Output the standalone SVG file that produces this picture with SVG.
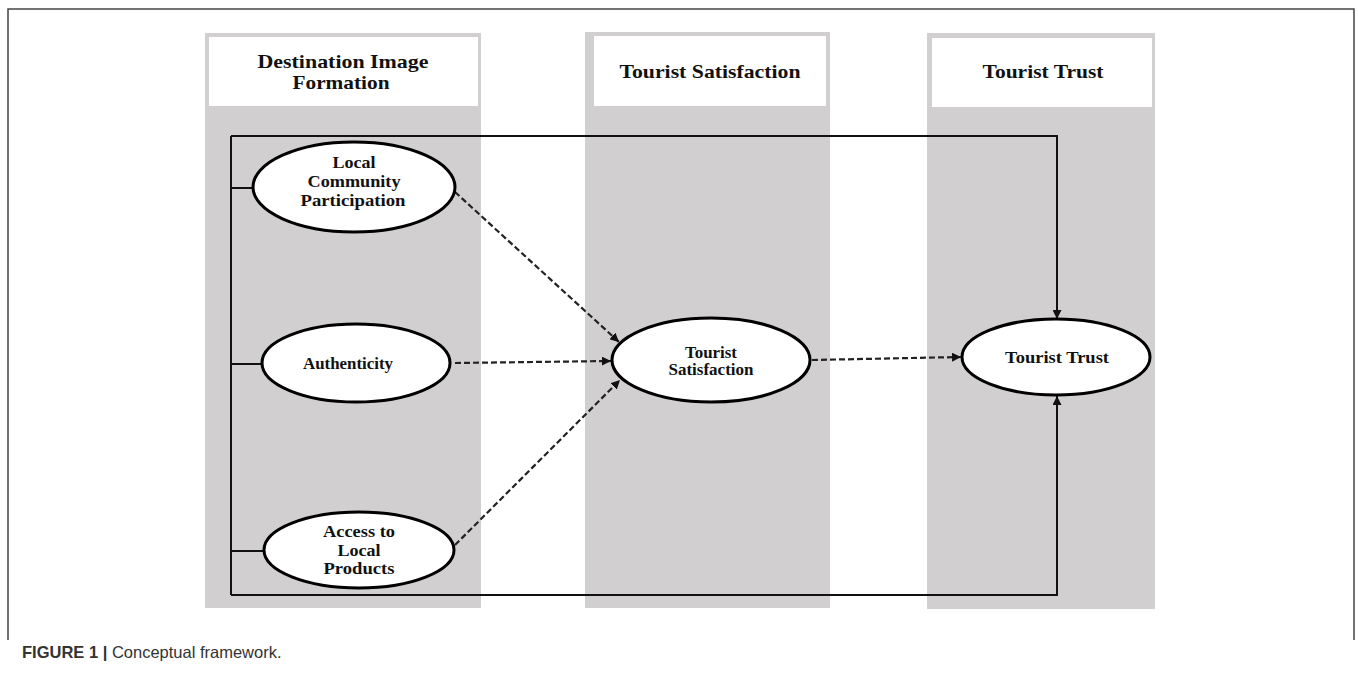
<svg xmlns="http://www.w3.org/2000/svg" width="1358" height="676" viewBox="0 0 1358 676">
  <style>
    .col { fill: #d2cfd0; }
    .hdr { fill: #ffffff; }
    .htxt { font-family: "Liberation Serif", "Times New Roman", serif; font-weight: bold; font-size: 19px; fill: #111; text-anchor: middle; }
    .ntxt { font-family: "Liberation Serif", "Times New Roman", serif; font-weight: bold; font-size: 17px; fill: #111; text-anchor: middle; }
    .node { fill: #ffffff; stroke: #000; stroke-width: 3; }
    .solid { fill: none; stroke: #111; stroke-width: 2; }
    .dash { fill: none; stroke: #222; stroke-width: 2.2; stroke-dasharray: 6 3; }
    .frame { fill: none; stroke: #444; stroke-width: 1.5; }
    .cap { font-family: "Liberation Sans", Arial, sans-serif; font-size: 16.5px; fill: #333; }
  </style>
  <defs>
    <marker id="ah" viewBox="0 0 10 10" refX="10" refY="5" markerWidth="9" markerHeight="9" markerUnits="userSpaceOnUse" orient="auto">
      <path d="M0,0 L10,5 L0,10 z" fill="#111"/>
    </marker>
  </defs>
  <rect width="1358" height="676" fill="#ffffff"/>

  <!-- outer figure frame -->
  <path class="frame" d="M8,640 V9 H1354 V640"/>

  <!-- columns -->
  <g id="col-destination">
    <rect class="col" x="205" y="33" width="276" height="575"/>
    <rect class="hdr" x="209" y="37" width="269" height="69"/>
    <text class="htxt" x="343" y="68" textLength="171" lengthAdjust="spacingAndGlyphs">Destination Image</text>
    <text class="htxt" x="341" y="89" textLength="97" lengthAdjust="spacingAndGlyphs">Formation</text>
  </g>
  <g id="col-satisfaction">
    <rect class="col" x="585" y="32" width="245" height="576"/>
    <rect class="hdr" x="594" y="36" width="232" height="70"/>
    <text class="htxt" x="710" y="78" textLength="181" lengthAdjust="spacingAndGlyphs">Tourist Satisfaction</text>
  </g>
  <g id="col-trust">
    <rect class="col" x="927" y="33" width="228" height="576"/>
    <rect class="hdr" x="932" y="38" width="220" height="69"/>
    <text class="htxt" x="1043" y="78" textLength="121" lengthAdjust="spacingAndGlyphs">Tourist Trust</text>
  </g>

  <!-- connectors -->
  <g id="connectors">
    <path class="solid" d="M231,136 V595"/>
    <path class="solid" d="M231,136 H1057 V319" marker-end="url(#ah)"/>
    <path class="solid" d="M231,595 H1057 V396" marker-end="url(#ah)"/>
    <path class="solid" d="M231,188 H254"/>
    <path class="solid" d="M231,364 H262"/>
    <path class="solid" d="M231,551 H264"/>
    <path class="dash" d="M455,192 L619,342" marker-end="url(#ah)"/>
    <path class="dash" d="M455,363 L611,361" marker-end="url(#ah)"/>
    <path class="dash" d="M455,545 L620,380" marker-end="url(#ah)"/>
    <path class="dash" d="M812,360 L961,357" marker-end="url(#ah)"/>
  </g>

  <!-- nodes -->
  <g id="node-lcp">
    <ellipse class="node" cx="354" cy="187" rx="101" ry="45"/>
    <text class="ntxt" x="354" y="168" textLength="43" lengthAdjust="spacingAndGlyphs">Local</text>
    <text class="ntxt" x="354" y="187" textLength="93" lengthAdjust="spacingAndGlyphs">Community</text>
    <text class="ntxt" x="353" y="206" textLength="105" lengthAdjust="spacingAndGlyphs">Participation</text>
  </g>
  <g id="node-authenticity">
    <ellipse class="node" cx="356" cy="363" rx="94" ry="39"/>
    <text class="ntxt" x="348" y="369" textLength="90" lengthAdjust="spacingAndGlyphs">Authenticity</text>
  </g>
  <g id="node-access">
    <ellipse class="node" cx="359" cy="550" rx="95" ry="38"/>
    <text class="ntxt" x="359" y="537" textLength="72" lengthAdjust="spacingAndGlyphs">Access to</text>
    <text class="ntxt" x="359" y="556" textLength="43" lengthAdjust="spacingAndGlyphs">Local</text>
    <text class="ntxt" x="359" y="574" textLength="71" lengthAdjust="spacingAndGlyphs">Products</text>
  </g>
  <g id="node-satisfaction">
    <ellipse class="node" cx="711" cy="360" rx="99" ry="42"/>
    <text class="ntxt" x="711" y="358" textLength="52" lengthAdjust="spacingAndGlyphs">Tourist</text>
    <text class="ntxt" x="711" y="375" textLength="85" lengthAdjust="spacingAndGlyphs">Satisfaction</text>
  </g>
  <g id="node-trust">
    <ellipse class="node" cx="1056" cy="357" rx="94" ry="38"/>
    <text class="ntxt" x="1057" y="363" textLength="104" lengthAdjust="spacingAndGlyphs">Tourist Trust</text>
  </g>

  <!-- caption -->
  <text class="cap" x="22" y="658"><tspan font-weight="bold">FIGURE 1 |</tspan> Conceptual framework.</text>
</svg>
